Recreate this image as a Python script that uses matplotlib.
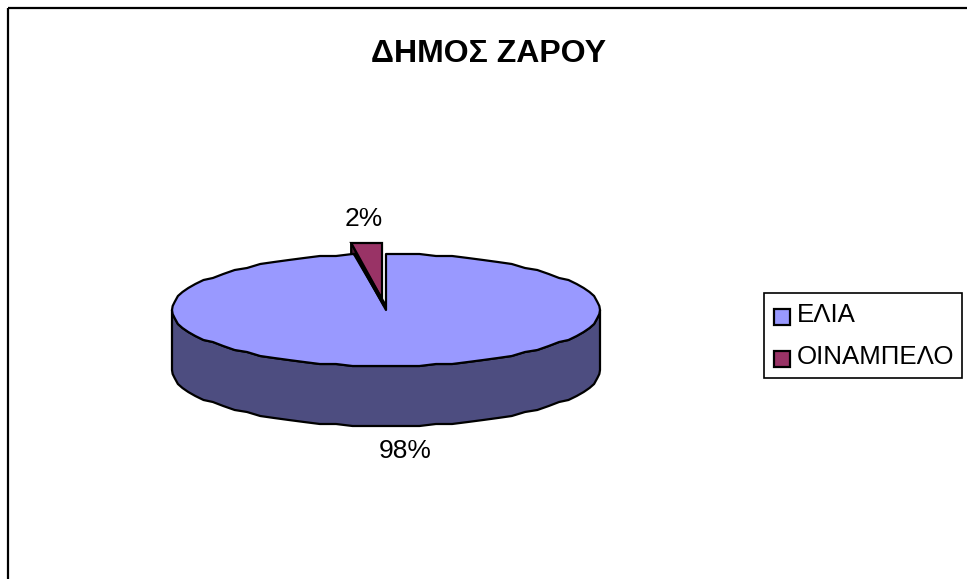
import numpy as np
import matplotlib
matplotlib.use('Agg')
import matplotlib.pyplot as plt
from matplotlib.patches import Polygon, Rectangle

plt.rcParams['font.family'] = ['Liberation Sans', 'DejaVu Sans']

title = 'ΔΗΜΟΣ ΖΑΡΟΥ'
categories = ['ΕΛΙΑ', 'ΟΙΝΑΜΠΕΛΟ']
values = [97.7, 2.3]
colors = ['#9999FF', '#993366']
side_colors = ['#4D4D80', '#4D1A33']

# pie layout, in pixels
cx, cy = 386, 310
rx, ry = 214, 56
depth = 60
explode_dx, explode_dy = -4, -11
step = 4.5


def rim(a0, a1):
    # y snapped to a small grid, the rim is slightly wavy in the original too
    t = np.append(np.arange(a0, a1, step), a1)
    t = np.radians(t)
    pts = np.column_stack([rx * np.sin(t), -ry * np.cos(t)])
    pts[1:-1, 1] = np.round(pts[1:-1, 1] / 2) * 2
    return pts


fig = plt.figure(figsize=(9.67, 5.79), dpi=100)
ax = fig.add_axes([0, 0, 1, 1])
ax.set_xlim(0, 967)
ax.set_ylim(579, 0)
ax.axis('off')

# chart frame, only top and left are inside the picture
ax.plot([8, 967], [8, 8], color='black', lw=1.6, solid_capstyle='butt')
ax.plot([8, 8], [8, 579], color='black', lw=1.6, solid_capstyle='butt')

ax.text(489, 62, title, fontsize=23, fontweight='bold', ha='center', va='baseline')

shares = np.array(values) / sum(values) * 360
a_main = shares[0]

# big slice: wall on the front half, then the top
wall_top = rim(90, 270) + [cx, cy]
wall_bot = wall_top[::-1] + [0, depth]
ax.add_patch(Polygon(np.vstack([wall_top, wall_bot]), closed=True, fc=side_colors[0],
                     ec='black', lw=1.6, joinstyle='round', zorder=2))

# small slice pulled out of the pie, its rim drawn flat
offset = np.array([cx + explode_dx, cy + explode_dy])
t_small = np.radians([a_main, 360])
small = np.column_stack([rx * np.sin(t_small), -ry * np.cos(t_small)]) + offset
small[:, 1] = small[:, 1].min()
left, right = small
apex = offset + [0, 0]
ax.add_patch(Polygon(np.vstack([left, left + [0, -explode_dy], left + [-explode_dx, -explode_dy], apex]),
                     closed=True, fc=side_colors[1], ec='black', lw=1.6, zorder=3))
ax.add_patch(Polygon(np.vstack([apex, left, right]), closed=True, fc=colors[1], ec='black',
                     lw=1.6, zorder=4))

top = np.vstack([[[0, 0]], rim(0, a_main)]) + [cx, cy]
ax.add_patch(Polygon(top, closed=True, fc=colors[0], ec='black', lw=1.6,
                     joinstyle='round', zorder=5))
ax.plot([top[-1][0], cx - 2], [top[-1][1], cy - 6], color='black', lw=2.8, zorder=6)

# percent labels
ax.text(364, 226, f'{values[1]:.0f}%', fontsize=19, ha='center', va='baseline')
ax.text(405, 458, f'{values[0]:.0f}%', fontsize=19, ha='center', va='baseline')

# legend
ax.add_patch(Rectangle((764, 293), 198, 85, fc='white', ec='black', lw=1.2))
for color, y in zip(colors, [308.5, 350.5]):
    ax.add_patch(Rectangle((774, y), 16, 16, fc=color, ec='black', lw=1.6))
for name, y in zip(categories, [322, 364]):
    ax.text(797, y, name, fontsize=18.6, va='baseline')

fig.savefig('out.png', dpi=100)
